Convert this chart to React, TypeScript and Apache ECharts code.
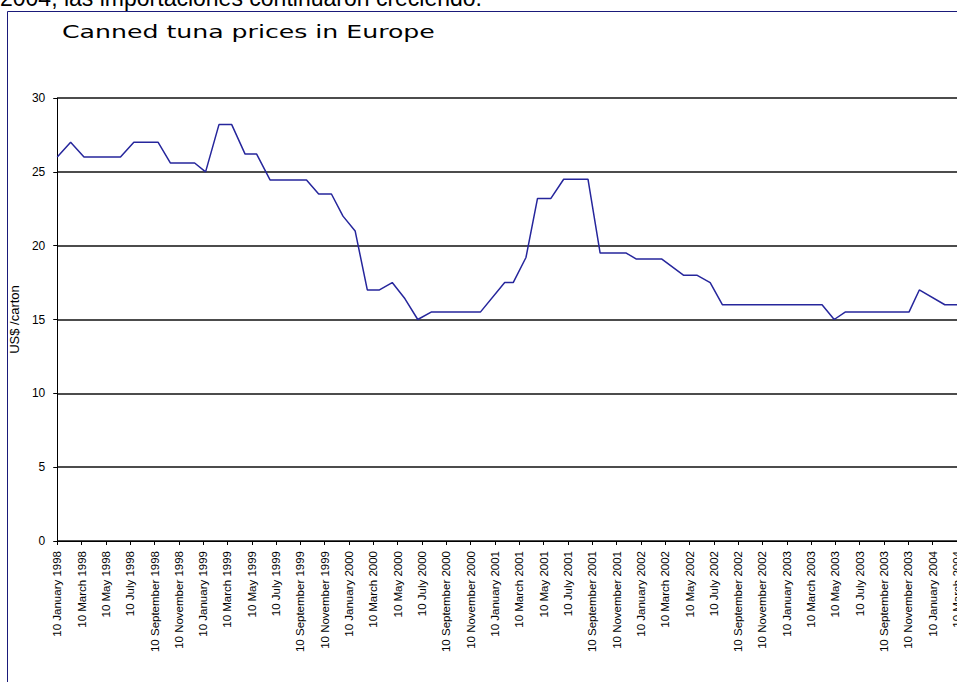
import React, { useEffect, useRef } from "react";
import * as echarts from "echarts";

const headerText = "2004, las importaciones continuaron creciendo.";
const chartTitle = "Canned tuna prices in Europe";
const yAxisTitle = "US$ /carton";

const tickLabels = [
  "10 January 1998", "10 March 1998", "10 May 1998", "10 July 1998", "10 September 1998", "10 November 1998",
  "10 January 1999", "10 March 1999", "10 May 1999", "10 July 1999", "10 September 1999", "10 November 1999",
  "10 January 2000", "10 March 2000", "10 May 2000", "10 July 2000", "10 September 2000", "10 November 2000",
  "10 January 2001", "10 March 2001", "10 May 2001", "10 July 2001", "10 September 2001", "10 November 2001",
  "10 January 2002", "10 March 2002", "10 May 2002", "10 July 2002", "10 September 2002", "10 November 2002",
  "10 January 2003", "10 March 2003", "10 May 2003", "10 July 2003", "10 September 2003", "10 November 2003",
  "10 January 2004", "10 March 2004",
];

// months elapsed since 10 January 1998
const monthOffsets = [
  0, 1.1, 2.2, 5.2, 6.3, 8.3, 9.3, 11.3, 12.2, 13.3,
  14.35, 15.45, 16.4, 17.5, 20.5, 21.5, 22.55, 23.5, 24.5, 25.5,
  26.5, 27.55, 28.6, 29.65, 30.75, 34.8, 36.8, 37.5, 38.55, 39.5,
  40.6, 41.65, 43.65, 44.65, 46.8, 47.6, 49.7, 51.5, 52.6, 53.7,
  54.7, 62.9, 63.9, 64.8, 70.05, 70.9, 73.0, 74.0,
];

// US$ per carton
const prices = [
  26.0, 27.0, 26.0, 26.0, 27.0, 27.0, 25.6, 25.6, 25.0, 28.2,
  28.2, 26.2, 26.2, 24.45, 24.45, 23.5, 23.5, 22.0, 21.0, 17.0,
  17.0, 17.5, 16.4, 15.0, 15.5, 15.5, 17.5, 17.5, 19.2, 23.2,
  23.2, 24.5, 24.5, 19.5, 19.5, 19.1, 19.1, 18.0, 18.0, 17.5,
  16.0, 16.0, 15.0, 15.5, 15.5, 17.0, 16.0, 16.0,
];

const yMin = 0;
const yMax = 30;
const yStep = 5;
const xStep = 2;

export default function App() {
  const ref = useRef<HTMLDivElement>(null);

  useEffect(() => {
    if (!ref.current) return;
    const chart = echarts.init(ref.current, undefined, { renderer: "svg" });
    const seriesData = monthOffsets.map((m, i) => [m, prices[i]]);
    const xMax = (tickLabels.length - 1) * xStep;

    chart.setOption({
      animation: false,
      backgroundColor: "#ffffff",
      grid: { left: 55, width: 902, top: 98, bottom: 141, containLabel: false },
      xAxis: {
        type: "value",
        min: 0,
        max: xMax,
        interval: xStep,
        axisLine: { show: true, onZero: false, lineStyle: { color: "#000", width: 1 } },
        axisTick: { show: true, length: 4, lineStyle: { color: "#000" } },
        splitLine: { show: false },
        axisLabel: {
          rotate: 90,
          margin: 10,
          fontSize: 11.5,
          color: "#000",
          fontFamily: "'Liberation Sans', Arial, sans-serif",
          showMinLabel: true,
          showMaxLabel: true,
          formatter: (v: number) => tickLabels[Math.round(v / xStep)] ?? "",
        },
      },
      yAxis: {
        type: "value",
        min: yMin,
        max: yMax,
        interval: yStep,
        name: yAxisTitle,
        nameLocation: "middle",
        nameRotate: 90,
        nameGap: 35,
        nameTextStyle: { fontSize: 13, color: "#000", fontFamily: "'Liberation Sans', Arial, sans-serif" },
        axisLine: { show: true, lineStyle: { color: "#000", width: 1 } },
        axisTick: { show: true, length: 4, lineStyle: { color: "#000" } },
        splitLine: { show: true, lineStyle: { color: "#111", width: 1.5 } },
        axisLabel: {
          margin: 12,
          fontSize: 12,
          color: "#000",
          fontFamily: "'Liberation Sans', Arial, sans-serif",
        },
      },
      series: [
        {
          type: "line",
          data: seriesData,
          symbol: "none",
          lineStyle: { color: "#26269c", width: 1.5 },
          clip: true,
        },
      ],
      graphic: [
        {
          type: "text",
          x: 0,
          y: -2.5,
          style: {
            text: headerText,
            fill: "#000",
            font: "23px 'Liberation Sans', Arial, sans-serif",
            textAlign: "left",
            textVerticalAlign: "middle",
          },
        },
        {
          type: "line",
          shape: { x1: 7.5, y1: 11.5, x2: 980, y2: 11.5 },
          style: { stroke: "#1a1a7a", lineWidth: 1 },
        },
        {
          type: "line",
          shape: { x1: 7.5, y1: 11.5, x2: 7.5, y2: 682 },
          style: { stroke: "#1a1a7a", lineWidth: 1 },
        },
        {
          type: "text",
          x: 62,
          y: 32,
          scaleX: 1.4,
          style: {
            text: chartTitle,
            fill: "#000",
            font: "18px 'DejaVu Sans', Verdana, sans-serif",
            textAlign: "left",
            textVerticalAlign: "middle",
          },
        },
      ],
    });

    return () => chart.dispose();
  }, []);

  return (
    <div style={{ position: "fixed", left: 0, top: 0, width: 957, height: 682, overflow: "hidden", background: "#fff" }}>
      <div
        ref={ref}
        style={{ position: "absolute", left: 0, top: 0, width: 980, height: 682, background: "#fff" }}
      />
    </div>
  );
}
